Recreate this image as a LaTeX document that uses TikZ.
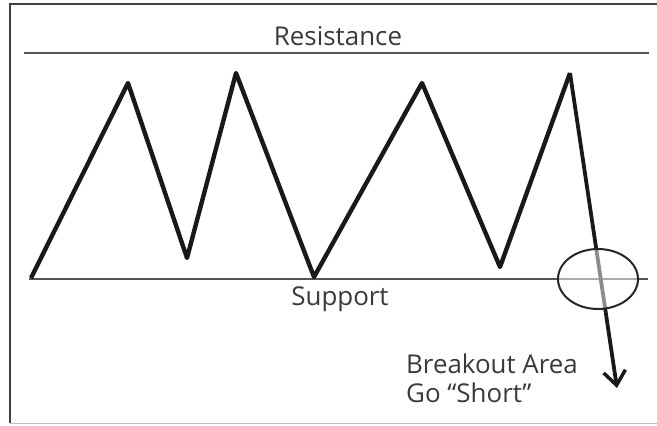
\documentclass[tikz,border=0pt]{standalone}
\usepackage{fontspec}
\setmainfont{Open Sans}
\usetikzlibrary{arrows.meta}

\definecolor{inkgray}{HTML}{3A3A3A}
\definecolor{linegray}{HTML}{555555}

\begin{document}
\begin{tikzpicture}[
  x=1bp, y=-1bp,
  font=\fontsize{26}{29}\selectfont,
  frame/.style={line width=1.6pt, black!75},
  level/.style={line width=2.4pt, linegray},
  zigzag/.style={line width=4.4pt, black!90, line join=round},
  breakout/.style={line width=3.8pt, black!90, -{Straight Barb[length=14bp, width=22bp, line width=3.5bp]}},
  zone/.style={draw=black!85, line width=2pt, fill=white, fill opacity=0.5},
  label/.style={inner sep=0pt, text=inkgray}
]
\useasboundingbox (0,0) rectangle (657,425);

% frame
\draw[frame] (657,4) -- (10,4) -- (10,423);
\draw[line width=1pt, black!25] (10,423) -- (657,423);

% resistance and support
\coordinate (resL) at (24,53);
\coordinate (resR) at (649,53);
\coordinate (supL) at (29,279);
\coordinate (supR) at (648,279);
\draw[level] (resL) -- (resR);
\draw[level] (supL) -- (supR);
\node[label, anchor=base] (res) at (338,45) {Resistance};
\node[label, anchor=base] (sup) at (340,305) {Support};

% price path
\coordinate (p0) at (31,278);
\coordinate (p1) at (128,83);
\coordinate (p2) at (187,258);
\coordinate (p3) at (236,73);
\coordinate (p4) at (314,277);
\coordinate (p5) at (422,83);
\coordinate (p6) at (500,267);
\coordinate (p7) at (570,73);
\coordinate (tip) at (617,388);
\draw[zigzag] (p0) -- (p1) -- (p2) -- (p3) -- (p4) -- (p5) -- (p6) -- (p7);
\draw[breakout] (p7) -- (tip);

% breakout zone
\draw[zone] (598,279) ellipse [x radius=40, y radius=30];

\node[label, anchor=base west, align=left] (note) at (406,402)
  {Breakout Area\\Go \textquotedblleft Short\textquotedblright};
\end{tikzpicture}
\end{document}
